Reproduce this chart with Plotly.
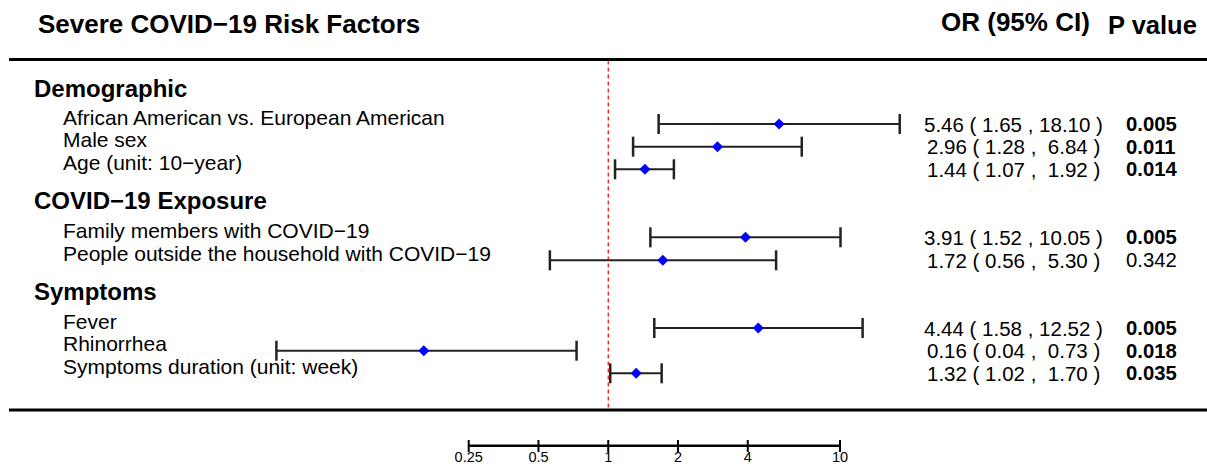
import math
import plotly.graph_objects as go

# ---------------- data ----------------
title_text = "Severe COVID−19 Risk Factors"
or_header = "OR (95% CI)"
p_header = "P value"
groups = ["Demographic", "COVID−19 Exposure", "Symptoms"]
items = [
    "African American vs. European American",
    "Male sex",
    "Age (unit: 10−year)",
    "Family members with COVID−19",
    "People outside the household with COVID−19",
    "Fever",
    "Rhinorrhea",
    "Symptoms duration (unit: week)",
]
odds_ratio = [5.46, 2.96, 1.44, 3.91, 1.72, 4.44, 0.16, 1.32]
ci_lower = [1.65, 1.28, 1.07, 1.52, 0.56, 1.58, 0.037, 1.02]
ci_upper = [18.10, 6.84, 1.92, 10.05, 5.30, 12.52, 0.73, 1.70]
p_values = [0.005, 0.011, 0.014, 0.005, 0.342, 0.005, 0.018, 0.035]
tick_vals = [0.25, 0.5, 1, 2, 4, 10]
tick_text = ["0.25", "0.5", "1", "2", "4", "10"]

# ---------------- layout constants (pixels) ----------------
W, H = 1207, 467
AX_L_PX, AX_R_PX = 468.7, 840.0          # pixel positions of 0.25 and 10
px_per_dec = (AX_R_PX - AX_L_PX) / (math.log10(tick_vals[-1]) - math.log10(tick_vals[0]))
xr0 = math.log10(tick_vals[0]) - AX_L_PX / px_per_dec
xr1 = math.log10(tick_vals[-1]) + (W - AX_R_PX) / px_per_dec

row_y = [124, 146.7, 169.3, 237.3, 260.3, 328, 350.7, 373.3]
group_y = [88.3, 200.3, 291.7]
label_dy = -7.0
top_line_y, bottom_line_y = 59.5, 410.0
axis_y = 445.7
cap_half = 10
FONT = "Liberation Sans, Arial, sans-serif"

def fx(px):
    return px / W

fig = go.Figure()

# CI lines
xs, ys = [], []
for lo, up, y in zip(ci_lower, ci_upper, row_y):
    xs += [lo, up, None]
    ys += [y, y, None]
fig.add_trace(go.Scatter(x=xs, y=ys, mode="lines",
                         line=dict(color="#222222", width=2), hoverinfo="skip"))
# caps
xs, ys = [], []
for lo, up, y in zip(ci_lower, ci_upper, row_y):
    for v in (lo, up):
        xs += [v, v, None]
        ys += [y - cap_half, y + cap_half, None]
fig.add_trace(go.Scatter(x=xs, y=ys, mode="lines",
                         line=dict(color="#222222", width=2.5), hoverinfo="skip"))
# reference line at 1
fig.add_trace(go.Scatter(x=[1, 1], y=[top_line_y + 1, bottom_line_y - 1], mode="lines",
                         line=dict(color="#FF0000", width=1.2, dash="4px,3px"),
                         hoverinfo="skip"))
# points
fig.add_trace(go.Scatter(x=odds_ratio, y=row_y, mode="markers",
                         marker=dict(symbol="diamond", color="#0000FF", size=8.5,
                                     line=dict(width=0)),
                         hoverinfo="skip"))

# bottom axis (manual, through the log scale)
fig.add_trace(go.Scatter(x=[tick_vals[0], tick_vals[-1]], y=[axis_y, axis_y], mode="lines",
                         line=dict(color="black", width=2.5), hoverinfo="skip"))
xs, ys = [], []
for t in tick_vals:
    xs += [t, t, None]
    ys += [axis_y - 5.7, axis_y + 6.3, None]
fig.add_trace(go.Scatter(x=xs, y=ys, mode="lines",
                         line=dict(color="black", width=2), hoverinfo="skip"))
fig.add_trace(go.Scatter(x=tick_vals, y=[458.3] * len(tick_vals), mode="text",
                         text=tick_text, textposition="middle center",
                         textfont=dict(family=FONT, size=14.5, color="black"),
                         hoverinfo="skip", cliponaxis=False))

annotations = []

def ann(text, xpx, ypx, size, anchor="left", bold=False):
    annotations.append(dict(
        text=f"<b>{text}</b>" if bold else text,
        x=fx(xpx), xref="paper", y=ypx, yref="y",
        xanchor=anchor, yanchor="middle", showarrow=False, borderpad=0,
        font=dict(family=FONT, size=size, color="black")))

ann(title_text, 36.5, 24, 26, bold=True)
ann(or_header, 1015.4, 22, 26, anchor="center", bold=True)
ann(p_header, 1106.5, 24.8, 25.5, bold=True)

for g, gy in zip(groups, group_y):
    ann(g, 33, gy, 24, bold=True)

for name, y in zip(items, row_y):
    ann(name, 62, y + label_dy, 21)

for o, lo, up, p, y in zip(odds_ratio, ci_lower, ci_upper, p_values, row_y):
    up_s = f"{up:.2f}"
    if len(up_s) < 5:
        up_s = "\u00a0" + up_s
    ann(f"{o:.2f} ( {lo:.2f} , {up_s} )", 1013.5, y, 20.5, anchor="center")
    ann(f"{p:.3f}", 1125, y, 20.3, bold=(p < 0.05))

shapes = [
    dict(type="line", xref="paper", yref="y", x0=fx(9), x1=1, y0=top_line_y, y1=top_line_y,
         line=dict(color="black", width=3)),
    dict(type="line", xref="paper", yref="y", x0=fx(9), x1=1, y0=bottom_line_y, y1=bottom_line_y,
         line=dict(color="black", width=3)),
]

fig.update_layout(
    width=W, height=H, autosize=False,
    margin=dict(l=0, r=0, t=0, b=0, pad=0),
    paper_bgcolor="white", plot_bgcolor="white",
    showlegend=False, hovermode=False,
    xaxis=dict(type="log", range=[xr0, xr1], domain=[0, 1], visible=False, fixedrange=True),
    yaxis=dict(range=[H, 0], domain=[0, 1], visible=False, fixedrange=True),
    annotations=annotations, shapes=shapes,
)

fig.write_html("out.html")
